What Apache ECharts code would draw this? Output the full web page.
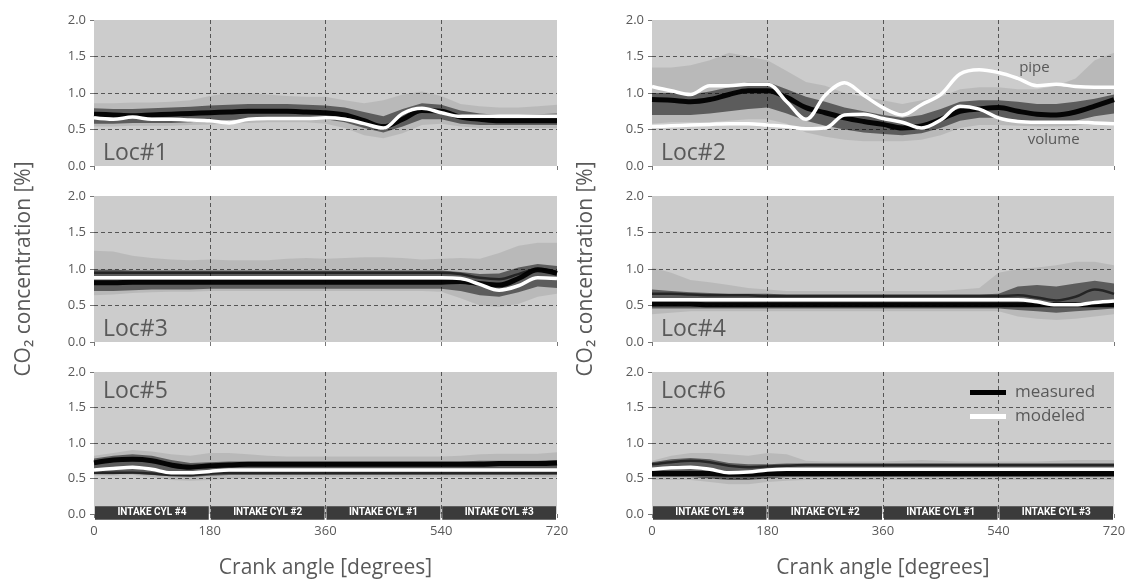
<!DOCTYPE html>
<html>
<head>
<meta charset="utf-8">
<script src="https://cdn.jsdelivr.net/npm/echarts@6/dist/echarts.min.js"></script>
<style>html,body{margin:0;padding:0;background:#fff}#c{width:1132px;height:580px}</style>
</head>
<body>
<div id="c"></div>
<script>
// ---------- data ----------
const angles = [0,30,60,90,120,150,180,210,240,270,300,330,360,390,420,450,480,510,540,570,600,630,660,690,720];
const panelNames = ['Loc#1','Loc#2','Loc#3','Loc#4','Loc#5','Loc#6'];
const intakeStart = [0,180,360,540];
const intakeEnd = [180,360,540,720];
const intakeLabels = ['INTAKE CYL #4','INTAKE CYL #2','INTAKE CYL #1','INTAKE CYL #3'];

// Loc#1
const loc1Model   = [0.66,0.64,0.67,0.64,0.64,0.63,0.62,0.59,0.64,0.65,0.65,0.65,0.66,0.64,0.58,0.52,0.72,0.79,0.73,0.68,0.68,0.68,0.68,0.68,0.68];
const loc1Meas    = [0.71,0.70,0.69,0.70,0.71,0.72,0.73,0.74,0.75,0.75,0.75,0.74,0.73,0.70,0.62,0.54,0.64,0.76,0.75,0.67,0.64,0.62,0.62,0.62,0.62];
const loc1InHi    = [0.79,0.78,0.78,0.79,0.80,0.81,0.83,0.84,0.85,0.85,0.85,0.84,0.83,0.80,0.74,0.68,0.78,0.86,0.84,0.76,0.72,0.70,0.70,0.71,0.72];
const loc1InLo    = [0.58,0.58,0.59,0.59,0.59,0.60,0.62,0.63,0.64,0.65,0.65,0.64,0.64,0.60,0.52,0.46,0.54,0.64,0.64,0.58,0.56,0.56,0.56,0.56,0.56];
const loc1OutHi   = [0.86,0.86,0.87,0.87,0.88,0.90,0.96,1.00,1.00,0.98,0.96,0.95,0.95,0.90,0.86,0.90,0.98,1.02,0.96,0.85,0.82,0.80,0.80,0.82,0.84];
const loc1OutLo   = [0.54,0.54,0.55,0.55,0.55,0.56,0.57,0.58,0.59,0.60,0.60,0.60,0.58,0.52,0.42,0.38,0.45,0.56,0.58,0.54,0.52,0.52,0.52,0.52,0.52];

// Loc#2
const loc2Pipe    = [1.09,1.03,0.98,1.10,1.10,1.12,1.12,0.88,0.64,0.97,1.14,0.97,0.80,0.70,0.84,0.98,1.26,1.32,1.28,1.20,1.10,1.12,1.09,1.08,1.08];
const loc2Volume  = [0.54,0.55,0.56,0.57,0.58,0.58,0.56,0.54,0.51,0.52,0.70,0.71,0.65,0.60,0.52,0.63,0.82,0.78,0.66,0.61,0.60,0.60,0.60,0.59,0.58];
const loc2Meas    = [0.91,0.90,0.88,0.91,0.98,1.03,1.03,0.94,0.80,0.73,0.66,0.61,0.57,0.52,0.55,0.64,0.75,0.78,0.80,0.75,0.71,0.70,0.74,0.82,0.91];
const loc2InHi    = [1.00,1.00,0.98,1.02,1.08,1.15,1.15,1.05,0.95,0.88,0.80,0.75,0.70,0.66,0.70,0.78,0.88,0.90,0.90,0.88,0.85,0.85,0.88,0.92,0.98];
const loc2InLo    = [0.70,0.70,0.70,0.72,0.75,0.78,0.80,0.72,0.62,0.55,0.50,0.46,0.44,0.42,0.45,0.52,0.62,0.66,0.66,0.63,0.60,0.60,0.62,0.68,0.72];
const loc2OutHi   = [1.35,1.35,1.38,1.45,1.55,1.50,1.45,1.30,1.15,1.10,1.00,0.95,0.90,0.85,0.90,0.95,1.05,1.08,1.08,1.05,1.05,1.10,1.20,1.45,1.55];
const loc2OutLo   = [0.58,0.60,0.60,0.60,0.62,0.64,0.64,0.58,0.46,0.40,0.36,0.34,0.34,0.34,0.36,0.42,0.52,0.56,0.56,0.55,0.54,0.54,0.55,0.58,0.60];

// Loc#3
const loc3Model   = [0.88,0.88,0.88,0.88,0.88,0.88,0.88,0.88,0.88,0.88,0.88,0.88,0.88,0.88,0.88,0.88,0.88,0.88,0.88,0.87,0.79,0.71,0.77,0.88,0.87];
const loc3Meas    = [0.81,0.81,0.82,0.82,0.82,0.82,0.82,0.82,0.82,0.82,0.82,0.82,0.82,0.82,0.82,0.82,0.82,0.82,0.82,0.83,0.80,0.78,0.87,0.99,0.94];
const loc3Upper   = [0.95,0.95,0.95,0.95,0.95,0.95,0.95,0.95,0.95,0.95,0.95,0.95,0.95,0.95,0.95,0.95,0.95,0.95,0.95,0.93,0.88,0.86,0.93,1.00,0.96];
const loc3InHi    = [0.99,0.99,0.98,0.98,0.98,0.98,0.98,0.98,0.98,0.98,0.98,0.98,0.98,0.98,0.98,0.98,0.98,0.98,0.98,0.96,0.93,0.94,1.02,1.07,1.04];
const loc3InLo    = [0.70,0.70,0.71,0.72,0.72,0.72,0.73,0.73,0.73,0.73,0.73,0.73,0.73,0.73,0.73,0.73,0.73,0.73,0.73,0.70,0.64,0.62,0.68,0.76,0.74];
const loc3OutHi   = [1.25,1.24,1.18,1.15,1.13,1.12,1.13,1.12,1.12,1.12,1.14,1.15,1.14,1.15,1.16,1.16,1.15,1.13,1.14,1.15,1.14,1.22,1.32,1.36,1.36];
const loc3OutLo   = [0.64,0.65,0.67,0.68,0.69,0.69,0.70,0.70,0.70,0.70,0.70,0.70,0.70,0.70,0.70,0.70,0.70,0.70,0.69,0.60,0.50,0.48,0.52,0.62,0.66];

// Loc#4
const loc4Model   = [0.58,0.58,0.58,0.58,0.58,0.58,0.58,0.58,0.58,0.58,0.58,0.58,0.58,0.58,0.58,0.58,0.58,0.58,0.58,0.58,0.55,0.51,0.51,0.54,0.56];
const loc4Meas    = [0.52,0.52,0.52,0.51,0.51,0.51,0.51,0.51,0.51,0.51,0.51,0.51,0.51,0.51,0.51,0.51,0.51,0.51,0.51,0.51,0.51,0.51,0.51,0.51,0.51];
const loc4Upper   = [0.66,0.66,0.65,0.64,0.64,0.64,0.63,0.63,0.63,0.63,0.63,0.63,0.63,0.63,0.63,0.63,0.63,0.63,0.63,0.64,0.61,0.57,0.62,0.72,0.66];
const loc4InHi    = [0.72,0.70,0.68,0.67,0.66,0.66,0.66,0.65,0.65,0.65,0.65,0.65,0.65,0.65,0.65,0.65,0.65,0.65,0.66,0.76,0.78,0.76,0.80,0.84,0.80];
const loc4InLo    = [0.46,0.46,0.46,0.46,0.46,0.46,0.46,0.46,0.46,0.46,0.46,0.46,0.46,0.46,0.46,0.46,0.46,0.46,0.46,0.44,0.42,0.40,0.42,0.44,0.46];
const loc4OutHi   = [1.02,0.95,0.85,0.82,0.78,0.74,0.72,0.70,0.70,0.70,0.70,0.70,0.70,0.70,0.70,0.70,0.72,0.74,0.95,1.00,1.02,1.05,1.10,1.10,1.05];
const loc4OutLo   = [0.38,0.40,0.42,0.42,0.42,0.42,0.42,0.42,0.42,0.42,0.42,0.42,0.42,0.42,0.42,0.42,0.42,0.42,0.42,0.35,0.32,0.30,0.32,0.35,0.38];

// Loc#5
const loc5Model   = [0.62,0.64,0.66,0.63,0.58,0.58,0.60,0.62,0.62,0.62,0.62,0.62,0.62,0.62,0.62,0.62,0.62,0.62,0.62,0.62,0.62,0.62,0.62,0.62,0.62];
const loc5Meas    = [0.72,0.76,0.77,0.75,0.69,0.66,0.68,0.69,0.70,0.70,0.70,0.70,0.70,0.70,0.70,0.70,0.70,0.70,0.70,0.70,0.70,0.71,0.71,0.71,0.72];
const loc5Lower   = [0.58,0.58,0.58,0.57,0.55,0.55,0.57,0.58,0.58,0.58,0.58,0.58,0.58,0.58,0.58,0.58,0.58,0.58,0.58,0.58,0.58,0.58,0.58,0.58,0.58];
const loc5InHi    = [0.78,0.82,0.84,0.82,0.76,0.72,0.73,0.74,0.74,0.74,0.74,0.74,0.74,0.74,0.74,0.74,0.74,0.74,0.74,0.74,0.75,0.75,0.75,0.75,0.76];
const loc5InLo    = [0.56,0.56,0.57,0.55,0.53,0.52,0.54,0.55,0.55,0.55,0.55,0.55,0.55,0.55,0.55,0.55,0.55,0.55,0.55,0.55,0.55,0.55,0.55,0.55,0.55];
const loc5OutHi   = [0.82,0.86,0.90,0.88,0.84,0.82,0.86,0.86,0.84,0.82,0.81,0.81,0.81,0.81,0.81,0.81,0.81,0.81,0.81,0.82,0.84,0.85,0.85,0.85,0.87];
const loc5OutLo   = [0.54,0.54,0.55,0.52,0.48,0.47,0.48,0.50,0.51,0.52,0.52,0.52,0.52,0.52,0.52,0.52,0.52,0.52,0.52,0.52,0.52,0.52,0.52,0.52,0.52];

// Loc#6
const loc6Model   = [0.63,0.65,0.66,0.63,0.58,0.59,0.62,0.63,0.63,0.63,0.63,0.63,0.63,0.63,0.63,0.63,0.63,0.63,0.63,0.63,0.63,0.63,0.63,0.63,0.63];
const loc6Meas    = [0.57,0.57,0.57,0.57,0.56,0.56,0.57,0.57,0.57,0.57,0.57,0.57,0.57,0.57,0.57,0.57,0.57,0.57,0.57,0.57,0.57,0.57,0.57,0.57,0.57];
const loc6Upper   = [0.70,0.73,0.75,0.73,0.68,0.66,0.67,0.68,0.69,0.69,0.69,0.69,0.69,0.69,0.69,0.69,0.69,0.69,0.69,0.69,0.69,0.69,0.69,0.69,0.69];
const loc6InHi    = [0.73,0.77,0.79,0.77,0.72,0.70,0.70,0.71,0.71,0.71,0.71,0.71,0.71,0.71,0.71,0.71,0.71,0.71,0.71,0.71,0.71,0.71,0.71,0.71,0.71];
const loc6InLo    = [0.52,0.52,0.52,0.50,0.48,0.48,0.50,0.52,0.52,0.52,0.52,0.52,0.52,0.52,0.52,0.52,0.52,0.52,0.52,0.52,0.52,0.52,0.52,0.52,0.52];
const loc6OutHi   = [0.75,0.82,0.86,0.86,0.84,0.82,0.86,0.84,0.75,0.74,0.74,0.74,0.74,0.75,0.76,0.75,0.74,0.74,0.74,0.74,0.74,0.75,0.76,0.76,0.76];
const loc6OutLo   = [0.48,0.48,0.48,0.45,0.42,0.42,0.45,0.47,0.48,0.48,0.48,0.48,0.48,0.48,0.48,0.48,0.48,0.48,0.48,0.48,0.48,0.48,0.48,0.48,0.48];

// ---------- layout / styling ----------
const FONT = '"Open Sans","Noto Sans",sans-serif';
const TXT = '#595959';
const cols = [{left:94, width:463}, {left:652, width:462}];
const rows = [{top:20, height:146}, {top:196, height:146}, {top:372, height:146}];

const panels = [
  {model:[loc1Model], cores:[[loc1Meas,5]], inner:[loc1InLo,loc1InHi], outer:[loc1OutLo,loc1OutHi]},
  {model:[loc2Pipe,loc2Volume], cores:[[loc2Meas,5]], inner:[loc2InLo,loc2InHi], outer:[loc2OutLo,loc2OutHi]},
  {model:[loc3Model], cores:[[loc3Meas,5],[loc3Upper,2.5]], inner:[loc3InLo,loc3InHi], outer:[loc3OutLo,loc3OutHi]},
  {model:[loc4Model], cores:[[loc4Meas,5],[loc4Upper,2.5]], inner:[loc4InLo,loc4InHi], outer:[loc4OutLo,loc4OutHi]},
  {model:[loc5Model], cores:[[loc5Meas,5],[loc5Lower,2.5]], inner:[loc5InLo,loc5InHi], outer:[loc5OutLo,loc5OutHi]},
  {model:[loc6Model], cores:[[loc6Meas,5],[loc6Upper,2.5]], inner:[loc6InLo,loc6InHi], outer:[loc6OutLo,loc6OutHi]}
];

const pts = arr => angles.map((a,i)=>[a, arr[i]]);
const SM = 0.35;

const grids = [], xAxes = [], yAxes = [], series = [], graphics = [];
panels.forEach((p, i) => {
  const r = Math.floor(i/2), c = i % 2;
  const bottom = r === 2;
  grids.push({left:cols[c].left, width:cols[c].width, top:rows[r].top, height:rows[r].height,
    show:true, backgroundColor:'#cccccc', borderWidth:0});
  xAxes.push({type:'value', gridIndex:i, min:0, max:720, interval:180,
    axisLine:{show:false}, axisTick:{show:true, length:4, lineStyle:{color:'#777'}},
    axisLabel:{show:bottom, color:TXT, fontSize:13, margin:11, fontFamily:FONT},
    splitLine:{show:true, showMinLine:false, showMaxLine:false, lineStyle:{color:'#555', width:1, type:[4,3]}},
    name: bottom ? 'Crank angle [degrees]' : '', nameLocation:'middle', nameGap:44,
    nameTextStyle:{fontSize:21, color:TXT, fontFamily:FONT}});
  yAxes.push({type:'value', gridIndex:i, min:0, max:2, interval:0.5,
    axisLine:{show:false}, axisTick:{show:true, length:4, lineStyle:{color:'#777'}},
    axisLabel:{formatter:v=>v.toFixed(1), color:TXT, fontSize:13, margin:8, fontFamily:FONT},
    splitLine:{show:true, showMinLine:false, showMaxLine:false, lineStyle:{color:'#555', width:1, type:[4,3]}},
    name: r === 1 ? 'CO\u2082 concentration [%]' : '', nameLocation:'middle', nameGap: c === 0 ? 59 : 55,
    nameTextStyle:{fontSize:21, color:TXT, fontFamily:FONT}});

  // density band drawn as one polygon between lo and hi through the axis scales
  const band = (lohi, op) => ({
    type:'custom', xAxisIndex:i, yAxisIndex:i, silent:true, z:1, clip:true,
    data: angles.map((a,k)=>[a, lohi[0][k], lohi[1][k]]),
    encode:{x:0, y:[1,2]},
    renderItem:(params, api) => {
      if (params.dataIndex !== 0) return null;
      const top = angles.map((a,k)=>api.coord([a, lohi[1][k]]));
      const bot = angles.map((a,k)=>api.coord([a, lohi[0][k]])).reverse();
      return {type:'polygon', shape:{points: top.concat(bot)},
        style:{fill:'rgba(0,0,0,' + op + ')'}};
    }
  });
  series.push(band(p.outer, 0.09));
  series.push(band(p.inner, 0.5));
  p.cores.forEach(([arr, w]) => series.push({type:'line', name:'measured', xAxisIndex:i, yAxisIndex:i,
    data:pts(arr), smooth:SM, symbol:'none', lineStyle:{color:'#000', width:w, opacity: w > 3 ? 0.95 : 0.6}, silent:true, z:3}));
  p.model.forEach((arr, k) => {
    const s = {type:'line', name:'modeled', xAxisIndex:i, yAxisIndex:i, data:pts(arr), smooth:SM, symbol:'none',
      lineStyle:{color:'#fff', width:3.5}, silent:true, z:4};
    if (i === 1) {
      const lbl = k === 0 ? {coord:[596, 1.34], text:'pipe'} : {coord:[626, 0.36], text:'volume'};
      s.markPoint = {symbol:'rect', symbolSize:1, itemStyle:{color:'rgba(0,0,0,0)'}, silent:true,
        data:[{coord:lbl.coord, label:{show:true, position:'inside', formatter:lbl.text, color:TXT, fontSize:15, fontFamily:FONT}}]};
    }
    series.push(s);
  });
  if (bottom) {
    series.push({type:'custom', xAxisIndex:i, yAxisIndex:i, clip:false, silent:true, z:5,
      data: intakeStart.map((s,k)=>[s, intakeEnd[k], k]),
      encode:{x:[0,1]},
      renderItem:(params, api) => {
        const p1 = api.coord([api.value(0), 0.11]);
        const p2 = api.coord([api.value(1), -0.08]);
        return {type:'rect', shape:{x:p1[0]+1, y:p1[1], width:p2[0]-p1[0]-2, height:p2[1]-p1[1]},
          style:{fill:'#3b3b3b'},
          textContent:{style:{text:intakeLabels[api.value(2)], fill:'#fff', fontSize:10, fontWeight:'bold', fontFamily:'"Liberation Sans Narrow","Roboto",sans-serif'}},
          textConfig:{position:'inside'}};
      }});
  }
  graphics.push({type:'text', x:cols[c].left + 9, y: bottom ? rows[r].top + 19 : rows[r].top + rows[r].height - 13,
    style:{text:panelNames[i], fill:TXT, font:'23px ' + FONT, textVerticalAlign:'middle'}, z:10});
});

const chart = echarts.init(document.getElementById('c'), null, {renderer:'canvas'});
chart.setOption({
  animation:false,
  backgroundColor:'#ffffff',
  grid:grids, xAxis:xAxes, yAxis:yAxes, series:series, graphic:graphics,
  legend:{left:965, top:379, orient:'vertical', itemGap:7, itemWidth:36, itemHeight:5, selectedMode:false,
    textStyle:{fontSize:17, color:TXT, fontFamily:FONT, padding:[0,0,0,4]},
    data:[{name:'measured', icon:'rect', itemStyle:{color:'#000'}},
          {name:'modeled', icon:'rect', itemStyle:{color:'#fff'}}]}
});
</script>
</body>
</html>
